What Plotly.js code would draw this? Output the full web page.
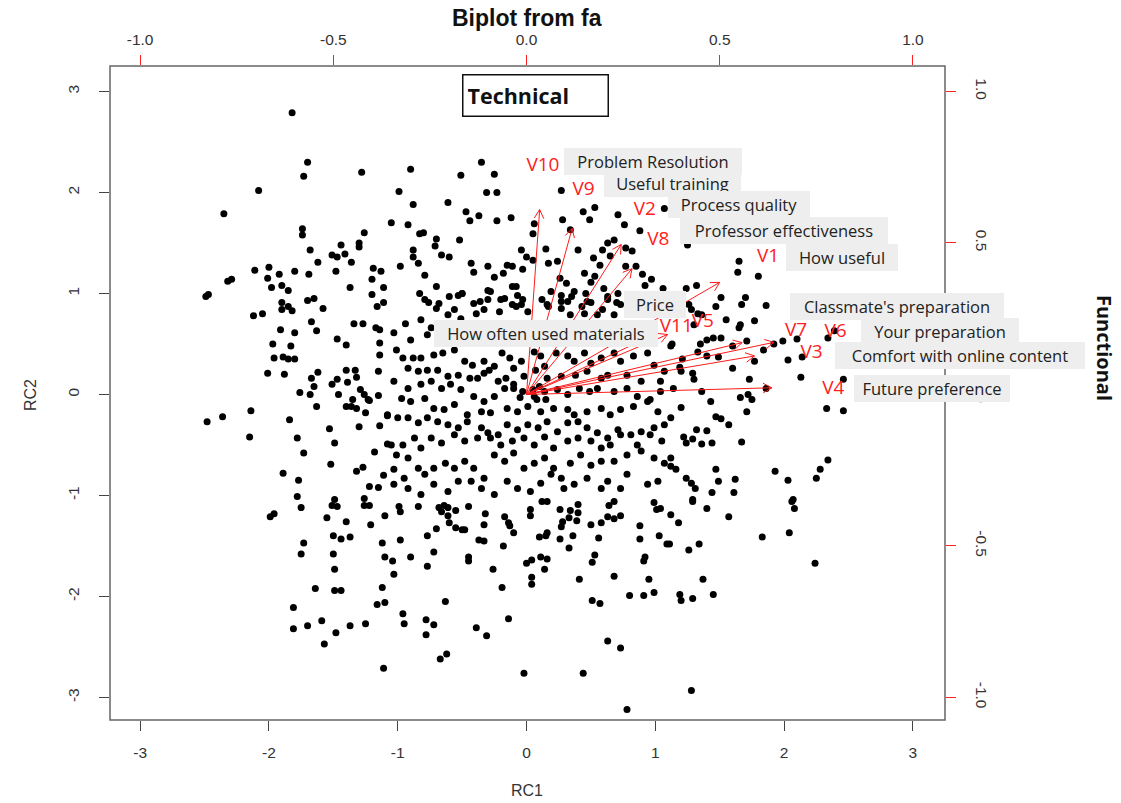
<!DOCTYPE html>
<html><head><meta charset="utf-8">
<script src="https://cdn.plot.ly/plotly-3.0.1.min.js"></script>
<style>html,body{margin:0;padding:0;background:#fff}#chart{width:1121px;height:803px}</style>
</head><body><div id="chart"></div>
<script>
// Factor scores (RC1, RC2)
const rc1 = [
-1.82,-1.70,-1.73,-1.28,-2.08,-2.35,-1.74,-1.74,-1.26,-1.68,-1.44,-1.30,-1.30,-1.51,-1.47,-1.41,-1.36,-1.62,-2.11,-2.00,-1.92,-1.80,-1.69,-1.48,-1.19,-1.13,-1.20,-2.01,-2.29,-2.32,
-1.98,-1.90,-1.85,-1.37,-1.20,-1.11,-2.47,-2.49,-1.90,-1.85,-1.90,-1.82,-1.70,-1.65,-1.58,-1.16,-1.11,-2.12,-2.05,-1.67,-1.63,-1.34,-1.27,-1.17,-1.14,-1.91,-1.80,-1.97,-1.83,-1.47,-1.40,-1.14,-1.14,-1.96,-1.89,-1.85,-1.80,-2.01,-1.88,-1.62,-1.40,-1.33,-1.32,-1.15,-1.67,-1.65,-1.47,-1.51,-1.39,-1.76,-1.68,-1.46,-1.29,-1.26,-1.23,-1.22,-1.15,-1.35,-1.40,-1.36,-1.32,-1.63,-1.25,-1.08,-2.14,-2.36,-2.48,-2.15,-1.84,-1.78,-1.53,-1.30,-1.14,-1.49,-1.08,-1.73,-1.18,-1.52,-1.27,-1.32,-1.11,-1.89,-1.77,-1.22,-1.15,-1.78,-1.49,-1.26,
-1.75,-1.51,-1.47,-1.26,-1.22,-1.10,-1.99,-1.96,-1.55,-1.40,-1.21,-1.73,-1.75,-1.50,-1.44,-1.37,-1.50,-1.49,-1.12,-1.10,-1.64,-1.49,-1.44,-1.12,-1.16,-1.10,-1.81,-1.81,-1.70,-1.59,-1.48,-1.57,-1.37,-1.25,-1.11,
1.29,2.06,1.40,2.08,1.12,1.18,1.57,1.83,2.04,1.11,1.26,1.34,2.24,1.37,1.19,1.20,1.29,1.45,1.28,
-0.99,-0.98,-0.84,-0.68,-0.64,-0.61,-0.66,-0.61,-0.55,-0.45,-0.32,-0.60,-0.55,-0.50,-0.48,-0.33,-0.70,-0.77,-0.98,-0.37,-0.33,-0.17,-0.14,-0.13,-0.10,-0.18,0.03,0.03,0.12,0.16,0.26,0.34,0.40,0.40,0.33,0.28,0.27,0.39,0.10,0.15,0.16,0.26,0.36,0.33,0.50,0.58,0.63,0.68,0.73,0.64,0.68,0.56,0.88,0.88,0.99,1.01,1.04,1.03,1.09,-1.04,-1.03,-0.90,-0.77,-0.72,-0.45,-0.45,-0.26,0.00,0.04,0.11,0.16,0.14,0.04,0.04,-0.19,0.41,0.51,0.53,0.68,0.91,0.92,0.95,0.80,0.91,0.99,0.51,0.57,-0.63,-0.96,-0.95,-0.78,-0.72,-0.78,-0.39,-0.31,-0.14,-0.67,-0.62,-0.02,0.44,0.63,0.73,0.78,
1.24,1.32,1.51,1.70,1.67,1.86,1.47,1.26,1.28,1.33,1.36,1.55,1.66,1.65,1.77,1.30,1.13,1.12,1.35,1.40,1.45,1.51,1.60,1.71,1.33,1.40,1.49,1.77,1.84,1.92,1.99,2.10,2.03,2.14,2.34,2.39,1.21,1.19,1.20,1.29,1.30,1.60,1.73,2.13,2.46,1.14,1.36,1.86,1.43,1.66,1.72,1.75,1.20,1.71,2.33,2.46,1.12,1.47,1.51,1.57,1.32,1.40,1.22,1.29,1.24,1.36,1.44,1.67,1.12,1.12,1.16,1.47,1.93,2.03,2.28,2.34,2.25,1.24,1.28,1.31,1.49,1.62,1.44,1.61,1.29,2.07,
1.65,1.64,1.80,1.25,
-0.35,-0.51,-0.25,-0.31,-0.23,0.27,-0.61,0.44,0.53,0.49,0.71,0.76,1.07,0.88,-0.47,-0.44,-0.37,-0.23,-0.12,0.06,0.05,0.28,0.34,-0.80,-0.70,-0.52,-0.71,-0.66,-0.60,-0.43,-0.41,-0.30,-0.25,-0.18,-0.11,-0.15,-0.04,0.00,0.05,-0.03,-0.08,0.15,0.17,0.24,0.26,0.31,0.40,0.45,0.53,0.50,0.63,0.68,0.59,0.65,0.77,0.82,0.77,0.85,0.90,0.97,0.92,1.06,0.52,0.57,
-0.83,-0.76,-0.68,-0.60,-0.50,-0.36,-0.28,-0.17,-0.08,-0.03,0.12,0.17,0.27,0.35,0.43,0.50,0.63,0.70,
-0.90,-0.99,-0.88,-1.05,-0.92,-0.83,-0.88,-0.88,-0.98,-0.84,-0.79,
-0.70,-0.53,-0.50,-0.41,-0.30,-0.30,-0.20,-0.11,-0.07,-0.04,0.01,-0.21,-0.79,-0.70,-0.61,-0.51,-0.39,-0.33,-0.56,-0.11,
0.19,0.27,0.32,0.37,0.46,0.47,0.60,0.63,0.71,0.73,0.68,0.55,0.27,0.34,0.16,0.45,0.59,
-1.03,-0.94,-0.90,-0.82,-0.74,-0.77,
-1.01,-0.96,-0.88,-0.82,-0.72,-0.65,-0.56,-0.48,-0.42,-0.33,-0.29,-0.25,-0.19,-0.13,-0.10,-0.04,0.06,0.11,0.14,0.23,0.32,0.37,0.45,0.50,0.58,0.68,0.73,0.83,0.94,0.99,1.07,
-0.92,-0.84,-0.77,-0.69,-0.61,-0.53,-0.44,-0.38,-0.33,-0.22,-0.16,-0.02,0.07,0.16,0.27,0.38,0.47,0.58,0.63,0.78,0.89,1.04,
-1.03,-0.92,-0.82,-0.74,-0.66,-0.59,-0.51,-0.41,-0.33,-0.25,-0.17,-0.10,-0.03,0.06,0.14,0.24,0.32,0.41,0.49,0.55,0.68,0.78,0.86,0.96,1.04,
-0.97,-0.90,-0.79,-0.72,-0.64,-0.56,-0.46,-0.35,-0.28,-0.15,-0.07,0.01,0.11,0.21,0.32,0.37,0.47,0.58,0.65,0.73,0.83,0.94,1.02,
-1.08,-1.00,-0.92,-0.84,-0.77,-0.69,-0.61,-0.53,-0.46,-0.35,-0.30,-0.22,-0.15,-0.07,0.01,0.09,0.16,0.24,0.32,0.40,0.47,0.55,0.63,0.71,0.81,0.89,0.99,1.07,
-1.05,-0.96,-0.87,-0.82,-0.74,-0.66,-0.56,-0.48,-0.38,-0.28,-0.20,-0.11,-0.02,0.06,0.14,0.21,0.32,0.40,0.50,0.58,0.65,0.73,0.86,0.96,1.05,
-1.01,-0.92,-0.84,-1.03,-0.95,-0.79,-0.72,-0.63,-0.56,-0.48,-0.41,-0.33,-0.25,-0.17,-0.10,-0.02,0.06,0.14,0.21,0.27,0.34,0.42,0.50,0.58,0.68,0.78,0.89,0.99,1.07,
-1.03,-0.92,-0.82,-0.72,-0.61,-0.53,-0.43,-0.35,-0.25,-0.15,-0.07,0.03,0.11,0.19,0.29,0.37,0.47,0.58,0.63,0.73,0.78,0.94,1.02,
0.05,-0.05,0.10,0.08,-0.10,0.15
];
const rc2 = [
2.79,2.30,2.16,2.20,2.02,1.79,1.64,1.58,1.60,1.43,1.48,1.50,1.46,1.38,1.36,1.39,1.31,1.31,1.23,1.26,1.19,1.22,1.19,1.22,1.25,1.22,1.14,1.15,1.14,1.12,
1.06,1.08,1.03,1.06,0.99,1.06,0.99,0.97,0.91,0.87,0.84,0.83,0.93,0.95,0.85,0.87,0.91,0.78,0.80,0.72,0.63,0.70,0.70,0.66,0.64,0.64,0.61,0.50,0.48,0.55,0.49,0.51,0.39,0.36,0.37,0.35,0.35,0.21,0.20,0.22,0.24,0.24,0.17,0.23,0.16,0.08,0.15,0.10,0.12,0.02,0.00,0.00,0.05,0.00,-0.05,-0.06,-0.01,-0.05,-0.12,-0.12,-0.14,-0.12,-0.18,-0.21,-0.16,-0.22,-0.27,-0.42,-0.25,-0.43,-0.34,-0.32,-0.31,-0.48,-0.49,-0.58,-0.57,-0.69,-0.72,-0.76,-0.80,-0.78,-0.85,-0.91,-0.92,-1.01,-1.04,-1.03,
-1.12,-1.10,-1.11,-1.10,-1.10,-1.20,-1.21,-1.18,-1.22,-1.26,-1.29,-1.47,-1.58,-1.40,-1.43,-1.41,-1.58,-1.73,-1.47,-1.61,-1.92,-1.94,-1.94,-1.91,-2.08,-2.06,-2.11,-2.32,-2.29,-2.24,-2.36,-2.47,-2.29,-2.27,-2.71,
-1.06,-1.06,-1.13,-1.13,-1.19,-1.27,-1.21,-1.41,-1.37,-1.48,-1.54,-1.48,-1.67,-1.83,-1.98,-2.04,-2.02,-1.98,-2.93,
-1.11,-1.16,-1.11,-1.12,-1.10,-1.12,-1.16,-1.20,-1.15,-1.11,-1.18,-1.27,-1.32,-1.34,-1.34,-1.29,-1.33,-1.40,-1.44,-1.44,-1.45,-1.21,-1.27,-1.30,-1.37,-1.50,-1.14,-1.20,-1.06,-1.06,-1.14,-1.15,-1.09,-1.17,-1.22,-1.26,-1.31,-1.25,-1.41,-1.40,-1.37,-1.43,-1.40,-1.52,-1.29,-1.27,-1.21,-1.23,-1.20,-1.10,-1.06,-1.42,-1.30,-1.43,-1.07,-1.14,-1.13,-1.40,-1.48,-1.65,-1.78,-1.61,-1.70,-1.56,-1.61,-1.65,-1.73,-1.67,-1.64,-1.61,-1.63,-1.73,-1.81,-1.88,-1.91,-1.83,-1.66,-1.59,-1.80,-1.65,-1.61,-1.83,-1.99,-1.99,-1.96,-2.04,-2.07,-2.05,-2.17,-2.27,-2.23,-2.28,-2.38,-2.31,-2.39,-2.22,-2.62,-2.57,-2.76,-2.76,-2.44,-2.51,-3.12,
1.05,1.08,0.96,0.96,0.89,0.88,0.87,0.89,0.84,0.80,0.79,0.74,0.69,0.66,0.73,0.69,0.50,0.48,0.50,0.54,0.56,0.56,0.48,0.53,0.42,0.38,0.37,0.33,0.44,0.50,0.53,0.55,0.34,0.37,0.56,0.63,0.35,0.27,0.23,0.21,0.15,0.26,0.15,0.17,0.15,0.06,0.03,0.06,-0.07,-0.03,0.00,-0.05,-0.13,-0.17,-0.14,-0.16,-0.23,-0.22,-0.24,-0.30,-0.35,-0.36,-0.42,-0.44,-0.48,-0.49,-0.48,-0.47,-0.63,-0.71,-0.74,-0.74,-0.76,-0.85,-0.74,-0.65,-0.83,-0.83,-0.88,-0.93,-0.86,-0.84,-0.97,-0.97,-1.04,-1.04,
1.32,1.21,1.17,1.48,
2.30,2.17,2.18,2.00,2.00,2.02,1.90,1.81,1.85,1.73,1.78,1.68,1.84,1.62,1.81,1.72,1.77,1.72,1.75,1.69,1.59,1.73,1.63,1.60,1.54,1.53,1.47,1.38,1.36,1.30,1.21,1.27,1.16,1.20,1.27,1.28,1.43,1.36,1.33,1.24,1.07,1.44,1.30,1.32,1.15,1.10,1.43,1.20,1.17,1.11,1.50,1.53,1.43,1.37,1.45,1.42,1.27,1.27,1.19,1.14,1.08,1.05,1.35,1.28,
1.00,0.91,0.90,0.97,1.00,0.92,1.02,0.95,0.87,0.94,0.94,0.87,0.92,0.97,0.87,0.91,0.97,0.91,
2.23,2.01,1.88,1.70,1.68,1.59,1.43,1.36,1.27,1.30,1.18,
1.07,0.98,1.00,0.90,1.03,0.94,0.94,1.07,0.98,0.89,0.82,0.82,0.94,0.85,0.79,0.75,0.80,0.84,0.84,0.89,
1.02,0.98,0.92,1.02,1.00,0.92,1.05,0.94,1.00,0.89,0.79,0.79,0.85,0.79,0.89,0.80,0.84,
0.61,0.70,0.54,0.74,0.66,0.59,
0.44,0.36,0.36,0.36,0.39,0.41,0.44,0.33,0.29,0.33,0.24,0.28,0.41,0.36,0.26,0.33,0.42,0.38,0.28,0.41,0.38,0.33,0.41,0.31,0.36,0.41,0.33,0.38,0.41,0.29,0.23,
0.26,0.23,0.24,0.24,0.18,0.19,0.16,0.16,0.21,0.13,0.16,0.18,0.24,0.16,0.18,0.19,0.23,0.16,0.19,0.19,0.13,0.13,
0.13,0.06,0.10,0.13,0.06,0.10,0.05,-0.02,-0.07,-0.02,0.06,0.06,0.03,-0.02,0.03,0.05,0.00,0.06,0.03,0.06,0.03,0.06,-0.02,-0.05,0.03,
-0.04,-0.07,-0.04,-0.14,-0.15,-0.10,-0.20,-0.17,-0.18,-0.14,-0.17,-0.12,-0.17,-0.14,-0.15,-0.20,-0.17,-0.14,-0.20,-0.15,-0.12,-0.07,-0.17,
-0.20,-0.23,-0.23,-0.28,-0.23,-0.27,-0.30,-0.33,-0.27,-0.33,-0.38,-0.40,-0.30,-0.35,-0.30,-0.33,-0.27,-0.37,-0.28,-0.27,-0.33,-0.38,-0.43,-0.35,-0.40,-0.37,-0.33,-0.30,
-0.50,-0.50,-0.43,-0.53,-0.43,-0.48,-0.40,-0.46,-0.43,-0.43,-0.50,-0.46,-0.43,-0.50,-0.42,-0.53,-0.46,-0.43,-0.46,-0.53,-0.50,-0.40,-0.50,-0.40,-0.46,
-0.60,-0.63,-0.73,-0.74,-0.83,-0.79,-0.73,-0.68,-0.73,-0.66,-0.73,-0.83,-0.60,-0.66,-0.58,-0.73,-0.68,-0.63,-0.73,-0.83,-0.68,-0.60,-0.70,-0.66,-0.66,-0.60,-0.56,-0.63,-0.68,
-0.89,-0.93,-0.99,-0.89,-0.96,-0.86,-0.86,-0.93,-0.99,-0.86,-0.93,-0.96,-0.88,-0.79,-0.93,-0.89,-0.83,-0.93,-0.86,-0.93,-0.79,-0.89,-0.86,
0.05,-0.03,0.08,-0.05,0.10,-0.05
];

// Loadings (arrows)
const varNames = ['V1','V2','V3','V4','V5','V6','V7','V8','V9','V10','V11'];
const loadX = [0.50, 0.245, 0.59, 0.635, 0.365, 0.64, 0.558, 0.273, 0.118, 0.034, 0.31];
const loadY = [0.37, 0.495, 0.127, 0.022, 0.198, 0.172, 0.171, 0.415, 0.548, 0.61, 0.185];

// Descriptive labels
const descText = ['Problem Resolution','Useful training','Process quality','Professor effectiveness','How useful',
  "Classmate's preparation",'Your preparation','Comfort with online content','Future preference','Price','How often used materials'];

const xTicks = [-3,-2,-1,0,1,2,3];
const yTicks = [-3,-2,-1,0,1,2,3];
const x2Ticks = [-1.0,-0.5,0.0,0.5,1.0];
const y2Ticks = [-1.0,-0.5,0.0,0.5,1.0];
const tickFmt = v => v.toFixed(1);

// ---------- layout / placement (not data) ----------
const W = 1121, H = 803;
const M = {l:110, r:176, t:66, b:83};
const pw = W - M.l - M.r, ph = H - M.t - M.b;
const xr = [-3.234, 3.249], yr = [-3.223, 3.252];
const x2r = [xr[0]/3, xr[1]/3], y2r = [yr[0]/3, yr[1]/3];
const sx = pw/(x2r[1]-x2r[0]), sy = ph/(y2r[1]-y2r[0]);
const toPX = v => (v - xr[0])/(xr[1]-xr[0]);
const toPY = v => (v - yr[0])/(yr[1]-yr[0]);

// description box placement: [centerX, centerY] in RC units, boxW px
const descPlace = [
  [0.98,2.31,178],[1.135,2.084,137],[1.65,1.88,142],[2.00,1.62,208],[2.447,1.356,112],
  [2.876,0.866,214],[3.21,0.624,158],[3.366,0.381,250],[3.148,0.059,156],[0.998,0.886,62],[0.151,0.599,224]
];
// extra vertical nudges of variable labels, px (positive = down)
const labelNudge = {V7:-1, V3:4};

const traces = [];
traces.push({
  x: rc1, y: rc2, type:'scatter', mode:'markers', xaxis:'x', yaxis:'y',
  marker:{color:'#000', size:7}, hoverinfo:'x+y', showlegend:false
});

// arrows
const ax=[], ay=[];
for (let i=0;i<varNames.length;i++){
  const lx=loadX[i], ly=loadY[i];
  ax.push(0, lx, null); ay.push(0, ly, null);
  const px=lx*sx, py=ly*sy;
  const ang=Math.atan2(py,px);
  for (const s of [-1,1]){
    const a=ang+Math.PI+s*0.5;
    ax.push(lx + 10*Math.cos(a)/sx); ay.push(ly + 10*Math.sin(a)/sy);
    ax.push(lx); ay.push(ly);
    ax.push(null); ay.push(null);
  }
}
traces.push({x:ax, y:ay, type:'scatter', mode:'lines', xaxis:'x2', yaxis:'y2',
  line:{color:'#ff1a1a', width:1}, hoverinfo:'skip', showlegend:false});

// variable labels (placed beyond arrow tips, nudged ~3px down)
traces.push({x: loadX.map(v=>v*1.25),
  y: loadY.map((v,i)=>v*1.25 - (3 + (labelNudge[varNames[i]]||0))/sy), text: varNames,
  type:'scatter', mode:'text', xaxis:'x2', yaxis:'y2',
  textfont:{family:'Open Sans, Arial, sans-serif', size:19, color:'#ff2020'},
  textposition:'middle center', hoverinfo:'skip', showlegend:false, cliponaxis:false});

const annotations = [];
descText.forEach((t,i)=>{
  const p = descPlace[i];
  annotations.push({x:toPX(p[0]), y:toPY(p[1]), xref:'paper', yref:'paper', text:t, showarrow:false,
    xanchor:'center', yanchor:'middle', bgcolor:'#eeeeee', borderpad:3, borderwidth:0,
    width:p[2]-6, height:21,
    font:{family:'Open Sans, sans-serif', size:16.5, color:'#222'}});
});
annotations.push({x:toPX(0.066), y:toPY(2.96), xref:'paper', yref:'paper', text:'<b>Technical</b>', showarrow:false,
  xanchor:'center', yanchor:'middle', align:'left', bgcolor:'#fff', bordercolor:'#111', borderwidth:1.5,
  borderpad:4, width:136, height:32, font:{family:'Open Sans, sans-serif', size:21.5, color:'#111'}});
annotations.push({xref:'paper', yref:'paper', yanchor:'middle', xanchor:'center',
  x: (527-M.l)/pw, y: 1 + (M.t-18)/ph, text:'<b>Biplot from fa</b>', showarrow:false,
  font:{family:'Liberation Sans Narrow, Liberation Sans, Arial, sans-serif', size:23, color:'#111'}});
annotations.push({x:(527-M.l)/pw, y:-(790-M.t-ph)/ph, xref:'paper', yref:'paper', text:'RC1', showarrow:false,
  xanchor:'center', yanchor:'middle', font:{family:'Liberation Sans, Arial, sans-serif', size:16, color:'#333'}});
annotations.push({x:-(M.l-30)/pw, y:(M.t+ph-395)/ph, xref:'paper', yref:'paper', text:'RC2', showarrow:false,
  textangle:-90, xanchor:'center', yanchor:'middle', font:{family:'Liberation Sans, Arial, sans-serif', size:16, color:'#333'}});
annotations.push({x:1+(1105-M.l-pw)/pw, y:(M.t+ph-348)/ph, xref:'paper', yref:'paper', text:'<b>Functional</b>', showarrow:false,
  textangle:90, xanchor:'center', yanchor:'middle', font:{family:'Open Sans, sans-serif', size:20, color:'#111'}});

const tickFont = {family:'Liberation Sans, Arial, sans-serif', size:15.5, color:'#333'};
const layout = {
  width:W, height:H, margin:M, paper_bgcolor:'#fff', plot_bgcolor:'#fff', showlegend:false,
  xaxis:{range:xr, tickvals:xTicks, ticktext:xTicks.map(String), ticks:'outside', ticklen:10, tickwidth:1,
    tickcolor:'#444', showgrid:false, zeroline:false, showline:false, tickfont:tickFont, ticklabelstandoff:8, fixedrange:true},
  yaxis:{range:yr, tickvals:yTicks, ticktext:yTicks.map(String), ticks:'outside', ticklen:10, tickwidth:1,
    tickcolor:'#444', showgrid:false, zeroline:false, showline:false, tickfont:tickFont, tickangle:-90, ticklabelstandoff:14, fixedrange:true},
  xaxis2:{range:x2r, overlaying:'x', side:'top', tickvals:x2Ticks, ticktext:x2Ticks.map(tickFmt), ticks:'outside',
    ticklen:10, tickwidth:1, tickcolor:'#ff2020', showgrid:false, zeroline:false, showline:false, tickfont:tickFont, ticklabelstandoff:4, fixedrange:true},
  yaxis2:{range:y2r, overlaying:'y', side:'right', tickvals:y2Ticks, ticktext:y2Ticks.map(tickFmt), ticks:'outside',
    ticklen:10, tickwidth:1, tickcolor:'#ff2020', showgrid:false, zeroline:false, showline:false, tickfont:tickFont, tickangle:90, ticklabelstandoff:14, fixedrange:true},
  shapes:[{type:'rect', xref:'paper', yref:'paper', x0:0, x1:1, y0:0, y1:1, line:{color:'#666', width:1.5}}],
  annotations: annotations
};
Plotly.newPlot('chart', traces, layout, {displayModeBar:false, staticPlot:true});
</script>
</body></html>
